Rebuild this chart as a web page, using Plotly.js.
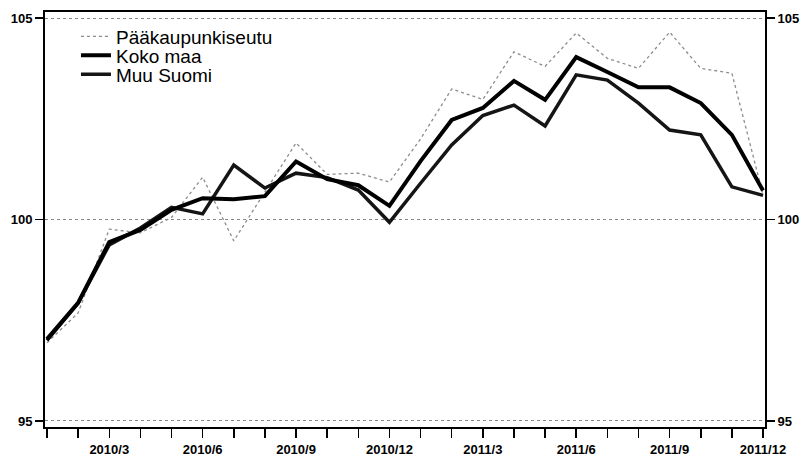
<!DOCTYPE html>
<html>
<head>
<meta charset="utf-8">
<script src="https://cdn.plot.ly/plotly-3.0.1.min.js"></script>
<style>html,body{margin:0;padding:0;background:#fff;}#chart{width:801px;height:457px;}</style>
</head>
<body>
<div id="chart"></div>
<script>
const months = ['2010/1','2010/2','2010/3','2010/4','2010/5','2010/6','2010/7','2010/8','2010/9','2010/10','2010/11','2010/12',
                '2011/1','2011/2','2011/3','2011/4','2011/5','2011/6','2011/7','2011/8','2011/9','2011/10','2011/11','2011/12'];
const tickText = ['','','2010/3','','','2010/6','','','2010/9','','','2010/12',
                  '','','2011/3','','','2011/6','','','2011/9','','','2011/12'];
const paakaupunkiseutu = [96.94, 97.68, 99.76, 99.67, 100.05, 101.05, 99.47, 100.7, 101.9, 101.12, 101.15, 100.93,
                          102.0, 103.24, 102.98, 104.16, 103.8, 104.63, 104.0, 103.75, 104.65, 103.75, 103.63, 100.62];
const kokoMaa = [97.03, 97.93, 99.44, 99.74, 100.24, 100.53, 100.5, 100.58, 101.44, 101.0, 100.85, 100.34,
                 101.45, 102.47, 102.77, 103.44, 102.97, 104.03, 103.66, 103.28, 103.28, 102.89, 102.1, 100.72];
const muuSuomi = [97.0, 97.93, 99.37, 99.79, 100.3, 100.14, 101.35, 100.78, 101.15, 101.04, 100.73, 99.93,
                  100.9, 101.85, 102.58, 102.84, 102.32, 103.59, 103.46, 102.89, 102.22, 102.1, 100.81, 100.6];
const xIdx = months.map((m, i) => i);

const traces = [
  {x: xIdx, y: paakaupunkiseutu, name: 'Pääkaupunkiseutu', mode: 'lines', type: 'scatter',
   line: {color: '#8c8c8c', width: 1.3, dash: 'dot'}, legend: 'legend', text: months, hoverinfo: 'text+y'},
  {x: xIdx, y: muuSuomi, name: 'Muu Suomi', mode: 'lines', type: 'scatter',
   line: {color: '#151515', width: 3.5}, legend: 'legend3', text: months, hoverinfo: 'text+y'},
  {x: xIdx, y: kokoMaa, name: 'Koko maa', mode: 'lines', type: 'scatter',
   line: {color: '#000000', width: 4}, legend: 'legend2', text: months, hoverinfo: 'text+y'}
];

const yRange = [94.85, 105.15];
const tickFont = {family: 'Liberation Sans, Arial, sans-serif', size: 13, color: '#000', weight: 'bold'};
const legFont = {family: 'Liberation Sans, Arial, sans-serif', size: 19, color: '#000'};
function leg(y) {
  return {x: 0.043, y: y, xanchor: 'left', yanchor: 'middle', bgcolor: 'rgba(0,0,0,0)',
          font: legFont, itemwidth: 30, borderwidth: 0};
}

const layout = {
  width: 801, height: 457,
  margin: {l: 45, r: 36, t: 12, b: 30, pad: 0},
  paper_bgcolor: '#fff', plot_bgcolor: '#fff',
  showlegend: true,
  legend: leg(0.9410),
  legend2: leg(0.8952),
  legend3: leg(0.8494),
  xaxis: {range: [-0.064, 23.064], tickmode: 'array', tickvals: xIdx, ticktext: tickText,
          ticks: 'outside', ticklen: 9, tickwidth: 1.5, tickcolor: '#000',
          showline: true, linecolor: '#000', linewidth: 2, mirror: true,
          showgrid: false, zeroline: false, tickfont: tickFont, fixedrange: true},
  yaxis: {range: yRange, tickvals: [95, 100, 105], ticktext: ['95', '100', '105'],
          ticks: 'outside', ticklen: 8, tickwidth: 1.5, tickcolor: '#000',
          showline: true, linecolor: '#000', linewidth: 2,
          showgrid: true, gridcolor: '#888', griddash: 'dot', gridwidth: 1,
          zeroline: false, tickfont: tickFont, fixedrange: true},
  yaxis2: {range: yRange, overlaying: 'y', side: 'right', tickvals: [95, 100, 105], ticktext: ['95', '100', '105'],
           ticks: 'outside', ticklen: 8, tickwidth: 1.5, tickcolor: '#000',
           showline: true, linecolor: '#000', linewidth: 2,
           showgrid: false, zeroline: false, tickfont: tickFont, fixedrange: true}
};

// invisible trace to activate the right-hand axis
traces.push({x: [0], y: [100], yaxis: 'y2', mode: 'markers', marker: {opacity: 0}, showlegend: false, hoverinfo: 'skip'});

Plotly.newPlot('chart', traces, layout, {displayModeBar: false, staticPlot: true});
</script>
</body>
</html>
